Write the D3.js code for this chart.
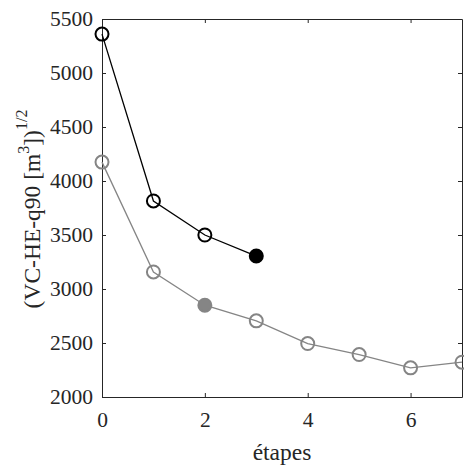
<!DOCTYPE html>
<html>
<head>
<meta charset="utf-8">
<script src="https://cdn.jsdelivr.net/npm/d3@7"></script>
<style>
body{margin:0;background:#fff;}
svg text{font-family:"Liberation Serif","Times New Roman",serif;fill:#262626;}
</style>
</head>
<body>
<svg id="c" width="464" height="469"></svg>
<script>
const steps = [0,1,2,3,4,5,6,7];
const blackValues = [5360,3815,3500,3305];
const grayValues = [4175,3158,2850,2705,2495,2393,2270,2322];
const blackFilledIndex = 3;
const grayFilledIndex = 2;
const xTicks = [0,2,4,6];
const yTicks = [2000,2500,3000,3500,4000,4500,5000,5500];

const svg = d3.select("#c");
const L=102,R=462,T=19,B=397;
const x = d3.scaleLinear().domain([0,7]).range([L,R]);
const y = d3.scaleLinear().domain([2000,5500]).range([B,T]);
const axisColor="#262626";
const fs=21.5;
const lfs=23.5;

function styleAxis(g){
  g.attr("font-family",null);
  g.select(".domain").attr("stroke",axisColor).attr("stroke-width",1);
  g.selectAll(".tick line").attr("stroke",axisColor).attr("stroke-width",1);
  g.selectAll(".tick text").attr("font-size",fs).attr("fill","#262626");
}
// bottom
svg.append("g").attr("transform",`translate(0,${B})`)
  .call(d3.axisBottom(x).tickValues(xTicks).tickSizeInner(-4).tickSizeOuter(0).tickPadding(15).tickFormat(d3.format("d")))
  .call(styleAxis);
// top
svg.append("g").attr("transform",`translate(0,${T})`)
  .call(d3.axisTop(x).tickValues(xTicks).tickSizeInner(-4).tickSizeOuter(0).tickFormat(""))
  .call(styleAxis);
// left
svg.append("g").attr("transform",`translate(${L},0)`)
  .call(d3.axisLeft(y).tickValues(yTicks).tickSizeInner(-4).tickSizeOuter(0).tickPadding(9).tickFormat(d3.format("d")))
  .call(styleAxis);
// right
svg.append("g").attr("transform",`translate(${R},0)`)
  .call(d3.axisRight(y).tickValues(yTicks).tickSizeInner(-4).tickSizeOuter(0).tickFormat(""))
  .call(styleAxis);

const line = d3.line().x((d,i)=>x(steps[i])).y(d=>y(d));

function series(vals,color,filledIdx){
  svg.append("path").datum(vals).attr("d",line).attr("fill","none").attr("stroke",color).attr("stroke-width",1.3);
  svg.selectAll(null).data(vals).enter().append("circle")
    .attr("cx",(d,i)=>x(steps[i])).attr("cy",d=>y(d)).attr("r",6.5)
    .attr("fill",(d,i)=>i===filledIdx?color:"none")
    .attr("stroke",color).attr("stroke-width",2);
}
series(grayValues,"#858585",grayFilledIndex);
series(blackValues,"#000000",blackFilledIndex);

// x label
svg.append("text").attr("x",(L+R)/2).attr("y",460).attr("text-anchor","middle").attr("font-size",lfs).text("étapes");
// y label
const yl = svg.append("text").attr("transform",`translate(40,209) rotate(-90)`).attr("text-anchor","middle").attr("font-size",lfs);
yl.append("tspan").text("(VC-HE-q90 [m");
yl.append("tspan").attr("font-size",16).attr("dy",-11).text("3");
yl.append("tspan").attr("dy",11).text("])");
yl.append("tspan").attr("font-size",16).attr("dy",-13).text("1/2");
</script>
</body>
</html>
